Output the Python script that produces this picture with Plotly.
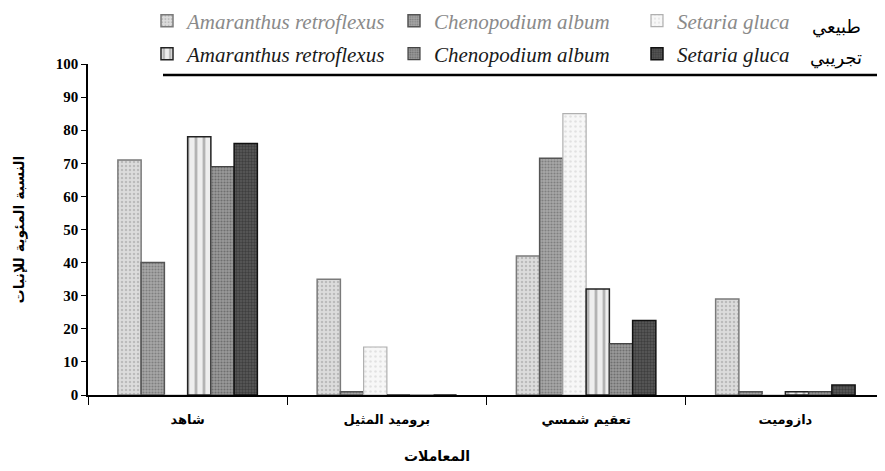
import plotly.graph_objects as go

categories = ["شاهد", "بروميد المثيل", "تعقيم شمسي", "دازوميت"]
species = ["Amaranthus retroflexus", "Chenopodium album", "Setaria gluca"]

amar_natural = [71, 35, 42, 29]
cheno_natural = [40, 1, 71.5, 1]
setaria_natural = [0, 14.5, 85, 0]
amar_exp = [78, 0, 32, 1]
cheno_exp = [69, 0, 15.5, 1]
setaria_exp = [76, 0, 22.5, 3]

y_ticks = list(range(0, 101, 10))

# the page body has an 8px margin; size the figure so it fits the window
OFF = 8
W, H = 885 - OFF, 471 - OFF
L, R, T, B = 88 - OFF, 0, 64 - OFF, 471 - 395
PW, PH = W - L - R, H - T - B


def px(x):  # reference-window pixel -> paper x
    return (x - OFF - L) / PW


def py(y):  # reference-window pixel -> paper y
    return (H - B - (y - OFF)) / PH


natural_styles = [
    dict(color="#dcdcdc", line=dict(color="#7a7a7a", width=1.5), pattern=dict(shape=".", fgcolor="#9a9a9a", size=4, solidity=0.3)),
    dict(color="#a8a8a8", line=dict(color="#555555", width=1.5), pattern=dict(shape=".", fgcolor="#555555", size=3, solidity=0.4)),
    dict(color="#f7f7f7", line=dict(color="#b0b0b0", width=1.2), pattern=dict(shape=".", fgcolor="#cccccc", size=5, solidity=0.2)),
]
exp_styles = [
    dict(color="#eeeeee", line=dict(color="#222222", width=1.5), pattern=dict(shape="|", fgcolor="#777777", size=8, solidity=0.35)),
    dict(color="#9a9a9a", line=dict(color="#444444", width=1.2), pattern=dict(shape=".", fgcolor="#444444", size=3, solidity=0.4)),
    dict(color="#5a5a5a", line=dict(color="#111111", width=1.5), pattern=dict(shape=".", fgcolor="#222222", size=3, solidity=0.5)),
]

text_x = [187, 434, 677]   # where each legend text starts (window px)
row_y = [22, 55]           # legend row centres (window px)
row_colors = ["#8a8a8a", "#1a1a1a"]

fig = go.Figure()
legend_layouts = {}
k = 0
for row, (vals_list, styles) in enumerate([
    ([amar_natural, cheno_natural, setaria_natural], natural_styles),
    ([amar_exp, cheno_exp, setaria_exp], exp_styles),
]):
    for i, (name, vals, st) in enumerate(zip(species, vals_list, styles)):
        k += 1
        lname = "legend" if k == 1 else f"legend{k}"
        fig.add_trace(go.Bar(x=categories, y=vals, name=name, marker=st, legend=lname))
        legend_layouts[lname] = dict(
            orientation="h", xref="container", yref="container",
            xanchor="left", yanchor="middle",
            x=(text_x[i] - 48) / W, y=1 - (row_y[row] - OFF - 1) / H,
            itemwidth=30, bgcolor="rgba(0,0,0,0)",
            font=dict(family="Liberation Serif", size=21, color=row_colors[row], style="italic"),
        )

fig.update_layout(
    width=W, height=H,
    margin=dict(l=L, r=R, t=T, b=B, autoexpand=False),
    paper_bgcolor="white", plot_bgcolor="white",
    barmode="group", bargap=0.3, bargroupgap=0,
    showlegend=True,
    **legend_layouts,
    xaxis=dict(
        showline=True, linecolor="black", linewidth=2,
        ticks="outside", ticklen=8, tickcolor="black", tickson="boundaries",
        ticklabelstandoff=11,
        tickfont=dict(family="DejaVu Sans", size=13, color="black", weight="bold"),
        showgrid=False, zeroline=False,
    ),
    yaxis=dict(
        range=[0, 100], tickvals=y_ticks,
        showline=True, linecolor="black", linewidth=1.5,
        ticks="outside", ticklen=5, tickcolor="black",
        tickfont=dict(family="Liberation Serif", size=15, color="black", weight="bold"),
        showgrid=False, zeroline=False,
        title=dict(text="النسبة المئوية للإنبات",
                   font=dict(family="DejaVu Sans", size=14, color="black", weight="bold"), standoff=28),
    ),
)

fig.add_shape(type="line", xref="paper", yref="paper",
              x0=px(163), x1=1, y0=py(75), y1=py(75),
              line=dict(color="black", width=2.5))

fig.add_annotation(text="طبيعي", xref="paper", yref="paper", x=px(836), y=py(27),
                   xanchor="center", yanchor="middle",
                   showarrow=False, font=dict(family="DejaVu Sans", size=18, color="black"))
fig.add_annotation(text="تجريبي", xref="paper", yref="paper", x=px(836), y=py(58),
                   xanchor="center", yanchor="middle",
                   showarrow=False, font=dict(family="DejaVu Sans", size=18, color="black"))
fig.add_annotation(text="المعاملات", xref="paper", yref="paper", x=px(437), y=py(456),
                   xanchor="center", yanchor="middle",
                   showarrow=False, font=dict(family="DejaVu Sans", size=14, color="black", weight="bold"))

fig.write_html("out.html")
